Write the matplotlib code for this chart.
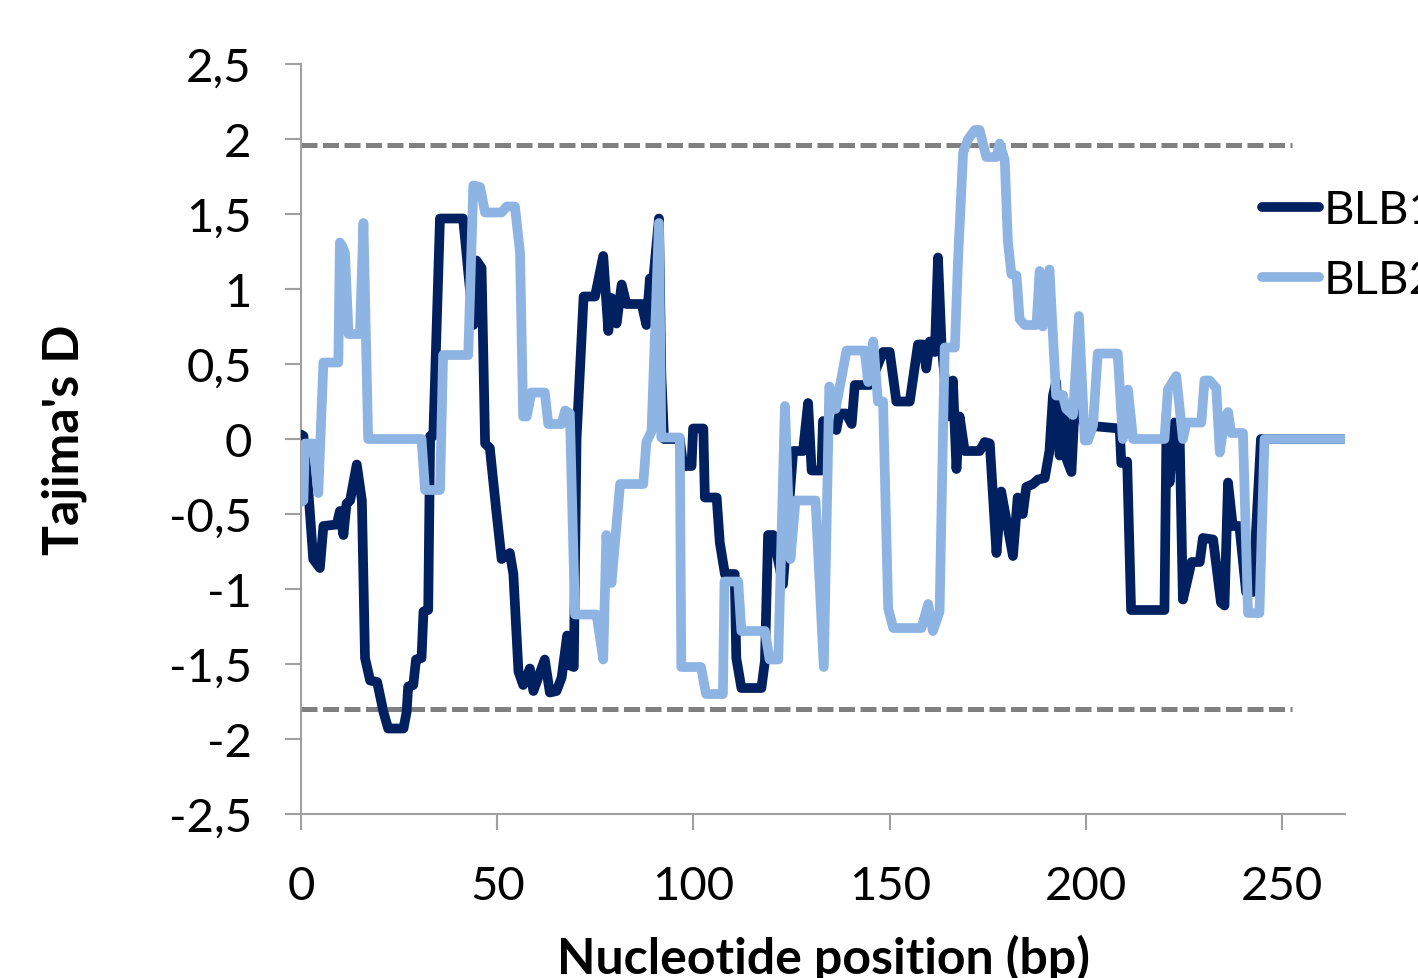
import matplotlib
matplotlib.use("Agg")
import matplotlib.pyplot as plt

plt.rcParams["font.family"] = ["Lato", "DejaVu Sans"]

# ---------------------------------------------------------------------------
# Data (sliding-window Tajima's D).
# ---------------------------------------------------------------------------
blb1_pos = [
    0, 0.6, 1.9, 3.1, 4.8, 5.7, 9.1, 9.9, 10.8, 11.6, 12.5, 14.2, 15.5, 16.3,
    17.6, 19.4, 21.0, 22.2, 26.1, 26.9, 27.3, 28.6, 29.3, 30.7, 31.2, 32.4,
    32.9, 33.7, 35.4, 41.3, 43.9, 44.7, 46.0, 46.9, 48.1, 49.8, 51.1, 53.2,
    54.1, 55.4, 56.6, 58.3, 59.2, 62.1, 63.4, 65.1, 66.4, 67.8, 68.5, 69.5,
    70.2, 72.0, 74.9, 77.0, 78.3, 79.1, 80.4, 81.7, 82.9, 86.8, 88.0, 88.9,
    89.8, 91.2, 91.8, 92.5, 96.5, 97.4, 99.5, 99.9, 102.5, 102.9, 105.9,
    106.7, 108.0, 110.5, 110.9, 112.2, 117.3, 118.2, 119.0, 120.3, 122.8,
    125.4, 127.9, 129.2, 130.1, 132.6, 133.0, 136.4, 137.2, 138.9, 140.3,
    141.1, 144.9, 148.3, 150.0, 151.7, 155.1, 157.2, 158.5, 159.3, 160.2,
    161.5, 162.3, 163.2, 164.9, 166.1, 167.0, 167.8, 169.1, 172.9, 174.2,
    175.5, 177.2, 178.4, 181.4, 182.6, 183.9, 184.8, 186.5, 187.8, 189.5,
    190.7, 191.6, 192.4, 193.3, 194.1, 195.0, 196.3, 197.1, 200.1, 208.6,
    209.0, 210.5, 211.5, 220.0, 220.5, 221.3, 222.6, 223.9, 224.7, 226.9,
    229.0, 229.8, 232.4, 234.4, 235.3, 236.2, 237.4, 239.1, 240.8, 242.5,
    244.6, 266.2,
]
blb1_d = [
    0.03, 0.02, -0.36, -0.80, -0.86, -0.58, -0.57, -0.48, -0.64, -0.43,
    -0.41, -0.17, -0.41, -1.46, -1.61, -1.62, -1.82, -1.93, -1.93, -1.82,
    -1.65, -1.64, -1.47, -1.46, -1.15, -1.14, 0.02, 0.02, 1.47, 1.47, 0.76,
    1.19, 1.14, -0.03, -0.06, -0.49, -0.80, -0.76, -0.90, -1.55, -1.64,
    -1.53, -1.68, -1.47, -1.69, -1.68, -1.59, -1.31, -1.51, -1.52, 0.0,
    0.95, 0.95, 1.22, 0.72, 0.94, 0.77, 1.03, 0.90, 0.90, 0.76, 1.07, 1.08,
    1.47, 0.43, 0.0, 0.0, -0.18, -0.18, 0.07, 0.07, -0.39, -0.39, -0.69,
    -0.90, -0.90, -1.46, -1.66, -1.66, -1.48, -0.64, -0.64, -0.97, -0.08,
    -0.08, 0.24, -0.21, -0.21, 0.12, 0.06, 0.17, 0.17, 0.10, 0.36, 0.36,
    0.58, 0.58, 0.25, 0.25, 0.63, 0.63, 0.47, 0.65, 0.58, 1.21, 0.63, 0.15,
    0.39, -0.20, 0.15, -0.08, -0.08, -0.02, -0.03, -0.76, -0.35, -0.78,
    -0.39, -0.50, -0.32, -0.30, -0.27, -0.26, -0.08, 0.29, 0.38, -0.11,
    0.29, -0.13, -0.22, 0.20, 0.09, 0.07, -0.16, -0.15, -1.14, -1.14, 0.02,
    -0.29, 0.11, -0.02, -1.07, -0.82, -0.82, -0.66, -0.67, -1.09, -1.11,
    -0.29, -0.58, -0.58, -1.02, -1.02, 0.0, 0.0,
]

blb2_pos = [
    0, 0.6, 1.0, 3.1, 4.4, 5.7, 9.5, 9.9, 10.6, 11.2, 12.1, 15.0, 15.9, 17.1,
    30.7, 31.6, 35.4, 36.2, 42.6, 43.9, 45.6, 46.9, 51.1, 52.4, 54.5, 55.8,
    56.6, 57.5, 58.7, 62.1, 63.0, 66.4, 67.3, 68.5, 69.8, 75.3, 77.0, 77.8,
    79.1, 81.3, 87.2, 88.0, 89.3, 91.2, 91.8, 96.5, 96.9, 101.9, 103.2,
    107.5, 107.9, 111.4, 112.2, 118.2, 119.4, 121.6, 123.3, 124.7, 126.0,
    131.1, 133.2, 134.6, 136.2, 139.0, 143.6, 144.5, 145.8, 147.0, 148.3,
    149.6, 150.9, 158.1, 159.8, 161.0, 162.7, 164.0, 166.6, 167.4, 168.7,
    170.0, 171.7, 172.9, 174.6, 177.2, 178.0, 179.3, 180.1, 181.0, 182.3,
    183.1, 184.4, 187.4, 188.2, 189.0, 190.7, 192.4, 194.1, 195.0, 196.7,
    198.2, 199.7, 200.5, 201.8, 203.0, 208.1, 209.4, 210.7, 212.0, 220.0,
    220.9, 223.0, 224.7, 225.6, 229.4, 230.2, 231.5, 233.2, 234.1, 235.3,
    236.2, 237.0, 240.0, 241.3, 244.2, 245.5, 265.9,
]
blb2_d = [
    -0.42, -0.41, -0.03, -0.03, -0.36, 0.51, 0.51, 1.31, 1.28, 1.24, 0.70,
    0.70, 1.44, 0.0, 0.0, -0.34, -0.34, 0.56, 0.56, 1.69, 1.68, 1.51, 1.51,
    1.55, 1.55, 1.24, 0.15, 0.15, 0.31, 0.31, 0.10, 0.10, 0.19, 0.17, -1.17,
    -1.17, -1.47, -0.64, -0.96, -0.30, -0.30, -0.02, 0.05, 1.44, 0.01, 0.01,
    -1.52, -1.52, -1.70, -1.70, -0.95, -0.95, -1.28, -1.28, -1.47, -1.47,
    0.22, -0.80, -0.41, -0.41, -1.52, 0.35, 0.20, 0.59, 0.59, 0.38, 0.65,
    0.25, 0.25, -1.13, -1.26, -1.26, -1.10, -1.28, -1.15, 0.61, 0.61, 1.19,
    1.91, 2.00, 2.06, 2.06, 1.88, 1.88, 1.97, 1.86, 1.32, 1.10, 1.09, 0.80,
    0.76, 0.76, 1.12, 0.75, 1.13, 0.29, 0.29, 0.20, 0.16, 0.82, -0.01,
    -0.01, 0.09, 0.57, 0.57, 0.0, 0.33, 0.0, 0.0, 0.33, 0.42, 0.0, 0.11,
    0.11, 0.39, 0.39, 0.34, -0.09, 0.13, 0.18, 0.04, 0.04, -1.16, -1.16,
    0.0, 0.0,
]

# Significance thresholds drawn as dashed lines.
thresh_upper = 1.96
thresh_lower = -1.8
thresh_end = 252.5

y_ticks = [-2.5, -2, -1.5, -1, -0.5, 0, 0.5, 1, 1.5, 2, 2.5]
y_ticklabels = ["-2,5", "-2", "-1,5", "-1", "-0,5", "0", "0,5", "1", "1,5",
                "2", "2,5"]
x_ticks = [0, 50, 100, 150, 200, 250]

# ---------------------------------------------------------------------------
# Figure.
# ---------------------------------------------------------------------------
fig = plt.figure(figsize=(14.18, 9.79), dpi=100)
ax = fig.add_axes([0.2123, 0.1675, 0.7362, 0.7661])

dash_kw = dict(color="#808080", lw=3.6, linestyle=(0, (3.2, 1.1)))
ax.hlines([thresh_upper, thresh_lower], 0, thresh_end, **dash_kw, zorder=1)

line_kw = dict(lw=7, solid_joinstyle="round", solid_capstyle="round")
ax.plot(blb1_pos, blb1_d, color="#002060", label="BLB1", zorder=3, **line_kw)
ax.plot(blb2_pos, blb2_d, color="#8DB4E2", label="BLB2", zorder=4, **line_kw)

ax.set_xlim(0, 266)
ax.set_ylim(-2.5, 2.5)
ax.set_yticks(y_ticks)
ax.set_yticklabels(y_ticklabels)
ax.set_xticks(x_ticks)

for side in ("top", "right"):
    ax.spines[side].set_visible(False)
for side in ("left", "bottom"):
    ax.spines[side].set_color("#A0A0A0")
    ax.spines[side].set_linewidth(1.5)

ax.tick_params(axis="both", direction="out", length=11.5, width=1.5,
               color="#A0A0A0", labelsize=34)
ax.tick_params(axis="y", pad=24)
ax.tick_params(axis="x", pad=25)

ax.set_xlabel("Nucleotide position (bp)", fontsize=36, fontweight="bold")
ax.set_ylabel("Tajima's D", fontsize=36, fontweight="bold")
ax.xaxis.set_label_coords(0.5, -0.16)
ax.yaxis.set_label_coords(-0.205, 0.5)

ax.legend(loc="upper left", bbox_to_anchor=(0.9205, 0.833),
          frameon=False, fontsize=34, handlelength=1.2, handletextpad=0.1,
          borderpad=0, borderaxespad=0, labelspacing=0.59)

fig.savefig("out.png", dpi=100)
